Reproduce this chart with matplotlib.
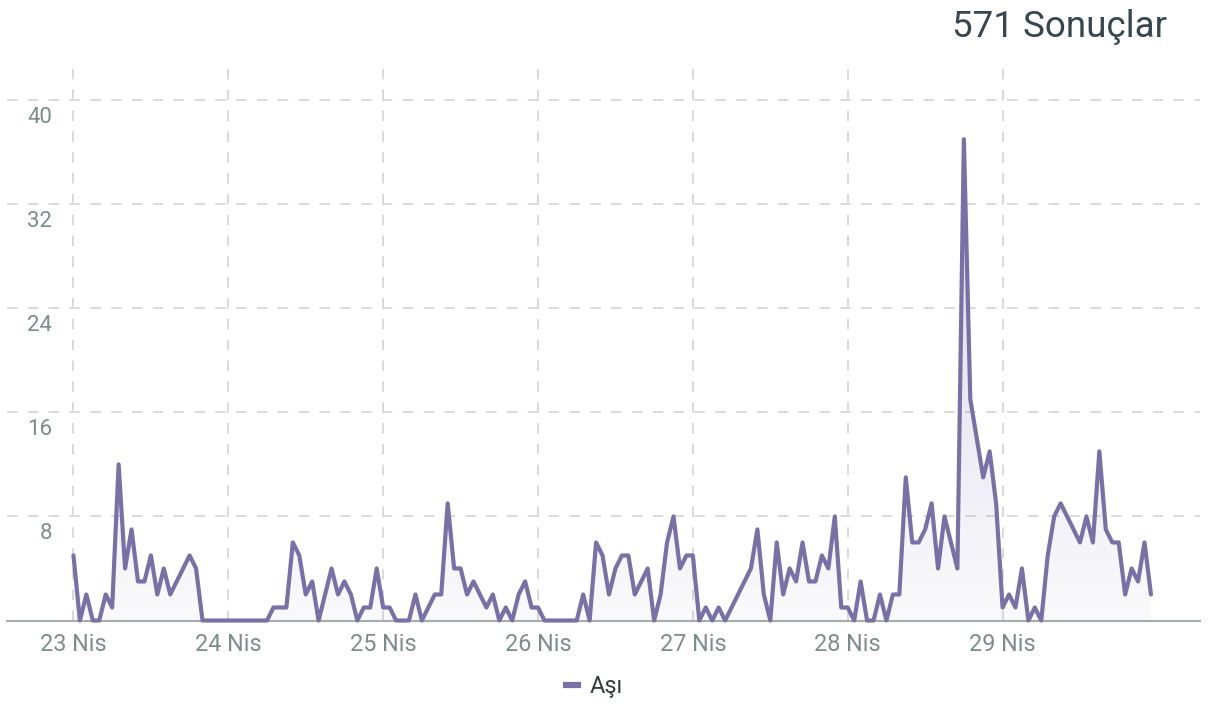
import numpy as np
import matplotlib
matplotlib.use("Agg")
import matplotlib.pyplot as plt
from matplotlib.lines import Line2D

plt.rcParams['font.family'] = ['Roboto', 'DejaVu Sans']
plt.rcParams['lines.scale_dashes'] = False

# hourly counts, 23 Nis 00:00 -> 29 Nis 23:00
counts_23 = [5, 0, 2, 0, 0, 2, 1, 12, 4, 7, 3, 3, 5, 2, 4, 2, 3, 4, 5, 4, 0, 0, 0, 0]
counts_24 = [0, 0, 0, 0, 0, 0, 0, 1, 1, 1, 6, 5, 2, 3, 0, 2, 4, 2, 3, 2, 0, 1, 1, 4]
counts_25 = [1, 1, 0, 0, 0, 2, 0, 1, 2, 2, 9, 4, 4, 2, 3, 2, 1, 2, 0, 1, 0, 2, 3, 1]
counts_26 = [1, 0, 0, 0, 0, 0, 0, 2, 0, 6, 5, 2, 4, 5, 5, 2, 3, 4, 0, 2, 6, 8, 4, 5]
counts_27 = [5, 0, 1, 0, 1, 0, 1, 2, 3, 4, 7, 2, 0, 6, 2, 4, 3, 6, 3, 3, 5, 4, 8, 1]
counts_28 = [1, 0, 3, 0, 0, 2, 0, 2, 2, 11, 6, 6, 7, 9, 4, 8, 6, 4, 37, 17, 14, 11, 13, 9]
counts_29 = [1, 2, 1, 4, 0, 1, 0, 5, 8, 9, 8, 7, 6, 8, 6, 13, 7, 6, 6, 2, 4, 3, 6, 2]

day_labels = ['23 Nis', '24 Nis', '25 Nis', '26 Nis', '27 Nis', '28 Nis', '29 Nis']
y_ticks = [8, 16, 24, 32, 40]
series_name = 'Aşı'

counts = np.array(counts_23 + counts_24 + counts_25 + counts_26 + counts_27 + counts_28 + counts_29)
hours = np.arange(len(counts))
total = counts.sum()

line_color = '#7a70a8'
grid_color = '#d9d9d9'
label_color = '#7d8c8c'

fig = plt.figure(figsize=(12.23, 7.09), dpi=100)
ax = fig.add_axes([7 / 1223, 1 - 620.5 / 709, 1193 / 1223, 555.5 / 709])

xmin, xmax = -10.3, 174.6
ymax = 42.7

# gradient fill under the line (darker at the top, fading to white)
fill = ax.fill_between(hours, counts, 0, color='none', lw=0)
grad = np.zeros((256, 1, 4))
grad[:, 0, :3] = matplotlib.colors.to_rgb(line_color)
grad[:, 0, 3] = np.linspace(0.28, 0.04, 256)
im = ax.imshow(grad, extent=[xmin, xmax, 0, counts.max()], aspect='auto',
               origin='upper', zorder=1)
im.set_clip_path(fill.get_paths()[0], transform=ax.transData)

ax.plot(hours, counts, color=line_color, lw=3.0, solid_joinstyle='round',
        solid_capstyle='round', zorder=3, clip_on=False)

ax.set_xlim(xmin, xmax)
ax.set_ylim(0, ymax)

ax.set_xticks(np.arange(len(day_labels)) * 24)
ax.set_xticklabels(day_labels)
ax.set_yticks(y_ticks)
ax.set_yticklabels([])
ax.tick_params(axis='x', length=0, pad=9, labelsize=16.8, labelcolor=label_color)
ax.tick_params(axis='y', length=0)

ax.grid(True, color=grid_color, lw=1.4, dashes=(7.5, 7.5), zorder=0)
ax.set_axisbelow(True)

for s in ['top', 'right', 'left']:
    ax.spines[s].set_visible(False)
ax.spines['bottom'].set_color('#a3adac')
ax.spines['bottom'].set_linewidth(1.5)
ax.spines['bottom'].set_zorder(2)

for v in y_ticks:
    ax.annotate(str(v), xy=(0.038, v), xycoords=('axes fraction', 'data'),
                xytext=(0, -5), textcoords='offset points', ha='right', va='top',
                fontsize=16, color=label_color)

fig.text(1167 / 1223, 1 - 27 / 709, f'{total} Sonuçlar', ha='right', va='center',
         fontsize=26.5, color='#37474f')

handle = Line2D([], [], color=line_color, lw=4.5, solid_capstyle='butt')
fig.legend([handle], [series_name], loc='center', bbox_to_anchor=(593 / 1223, 1 - 687 / 709),
           frameon=False, fontsize=17, handlelength=0.75, handletextpad=0.35,
           labelcolor='#373d3f')

fig.savefig('out.png', dpi=100)
